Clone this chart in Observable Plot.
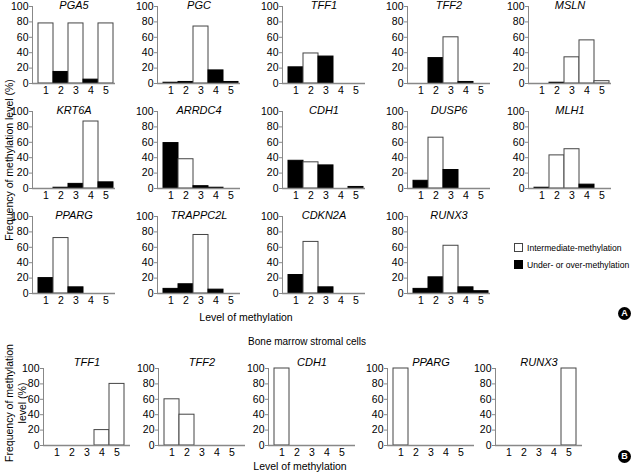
<!DOCTYPE html>
<html>
<head>
<meta charset="utf-8">
<script src="https://cdn.jsdelivr.net/npm/d3@7"></script>
<script src="https://cdn.jsdelivr.net/npm/@observablehq/plot@0.6"></script>
<style>
  body { margin: 0; background: white; }
  #fig { position: relative; width: 632px; height: 473px; background: white; overflow: hidden;
         font-family: "Liberation Sans", Arial, sans-serif; color: black; }
  #fig svg { position: absolute; overflow: visible; }
  .lbl { position: absolute; white-space: nowrap; font-size: 10px; line-height: 1; }
  .rot { transform: translate(-50%, -50%) rotate(-90deg); }
  .ctr { transform: translate(-50%, -50%); }
  .sq { position: absolute; width: 9px; height: 9px; box-sizing: border-box; border: 1px solid #444; }
  .badge { position: absolute; width: 13px; height: 13px; border-radius: 50%; background: black; color: white;
           font-weight: bold; font-size: 9px; line-height: 13px; text-align: center; }
</style>
</head>
<body>
<div id="fig"></div>
<script>
// ---------- data ----------
const levels = [1, 2, 3, 4, 5];
const yTicks = [0, 20, 40, 60, 80, 100];

// Panel A (I = intermediate-methylation, U = under- or over-methylation)
const genesA = ["PGA5", "PGC", "TFF1", "TFF2", "MSLN",
                "KRT6A", "ARRDC4", "CDH1", "DUSP6", "MLH1",
                "PPARG", "TRAPPC2L", "CDKN2A", "RUNX3"];
const valuesA = [
  [78, 15, 78, 5, 78],
  [1, 2, 74, 17, 2],
  [21, 39, 35, 0, 0],
  [0, 33, 60, 2, 0],
  [0, 1, 34, 56, 3],
  [0, 1, 6, 87, 8],
  [59, 38, 3, 1, 0],
  [36, 34, 30, 0, 2],
  [10, 66, 24, 0, 0],
  [1, 43, 51, 5, 0],
  [20, 72, 8, 0, 0],
  [6, 12, 76, 5, 0],
  [24, 67, 8, 0, 0],
  [6, 21, 62, 8, 3]
];
const kindsA = [
  "IUIUI", "UUIUU", "UIUUU", "UUIUU", "UUIII",
  "UUUIU", "UIUUU", "UIUUU", "UIUUU", "UIIUU",
  "UIUUU", "UUIUU", "UIUUU", "UUIUU"
];

// Panel B: bone marrow stromal cells
const genesB = ["TFF1", "TFF2", "CDH1", "PPARG", "RUNX3"];
const valuesB = [
  [0, 0, 0, 20, 80],
  [60, 40, 0, 0, 0],
  [100, 0, 0, 0, 0],
  [100, 0, 0, 0, 0],
  [0, 0, 0, 0, 100]
];
const kindsB = ["IIIII", "IIIII", "IIIII", "IIIII", "IIIII"];

const legendLabels = ["Intermediate-methylation", "Under- or over-methylation"];
const xTitle = "Level of methylation";
const yTitle = "Frequency of methylation level (%)";
const yTitleB = ["Frequency of methylation", "level (%)"];
const panelBTitle = "Bone marrow stromal cells";

// ---------- layout ----------
const fig = document.getElementById("fig");
const mL = 30, mR = 3, mT = 14, mB = 20, plotH = 77;
const colXA = [32, 157, 282, 407, 528];
const rowYA = [6, 111, 216];
const colXB = [43, 158, 268, 387, 495];
const rowYB = 368;

function chart(title, vals, kinds, axisLen, titleDy) {
  const data = levels.map((l, i) => ({level: l, value: vals[i], kind: kinds[i]}))
                     .filter(d => d.value > 0);
  return Plot.plot({
    width: mL + axisLen + mR,
    height: mT + plotH + mB,
    marginLeft: mL, marginRight: mR, marginTop: mT, marginBottom: mB,
    style: {fontFamily: "'Liberation Sans', Arial, sans-serif", fontSize: "10.5px", background: "transparent", color: "black"},
    x: {type: "band", domain: levels, range: [mL + 5.5, mL + 81.5], padding: 0},
    y: {domain: [0, 100]},
    marks: [
      Plot.barY(data, {
        x: "level", y: "value",
        fill: d => d.kind === "I" ? "white" : "black",
        stroke: d => d.kind === "I" ? "#444" : "black",
        strokeWidth: 1
      }),
      Plot.ruleY([0], {stroke: "#888", strokeWidth: 1.5}),
      Plot.frame({anchor: "left", stroke: "#888"}),
      Plot.axisY({ticks: yTicks, tickSize: 3, tickPadding: 1, stroke: "#888", fill: "black", label: null}),
      Plot.axisX({tickSize: 0, tickPadding: 3, fill: "black", label: null}),
      Plot.text([title], {frameAnchor: "top", lineAnchor: "middle", dy: titleDy,
                          fontStyle: "italic", fontSize: 11, fill: "black"})
    ]
  });
}

function place(el, left, top) {
  el.style.left = left + "px";
  el.style.top = top + "px";
  fig.appendChild(el);
}

genesA.forEach((g, i) => {
  const r = Math.floor(i / 5), c = i % 5;
  const svg = chart(g, valuesA[i], kindsA[i], 83, -1);
  place(svg, colXA[c] - mL, rowYA[r] - mT);
});

genesB.forEach((g, i) => {
  const svg = chart(g, valuesB[i], kindsB[i], 87, -6);
  place(svg, colXB[i] - mL, rowYB - mT);
});

function label(text, x, y, cls, size) {
  const d = document.createElement("div");
  d.className = "lbl " + cls;
  d.textContent = text;
  if (size) d.style.fontSize = size + "px";
  place(d, x, y);
  return d;
}

label(yTitle, 9, 160, "rot", 10.5);
label(xTitle, 246, 317, "ctr", 10.5);
label(panelBTitle, 307, 342, "ctr", 10);
label(yTitleB[0], 9, 403, "rot", 10.5);
label(yTitleB[1], 22, 403, "rot", 10.5);
label(xTitle, 300, 466, "ctr", 10.5);

// legend
const sqW = document.createElement("div");
sqW.className = "sq"; sqW.style.background = "white";
place(sqW, 514, 243);
const sqB = document.createElement("div");
sqB.className = "sq"; sqB.style.background = "black"; sqB.style.borderColor = "black";
place(sqB, 514, 260);
label(legendLabels[0], 527, 243.5, "", 8.6);
label(legendLabels[1], 527, 260.5, "", 8.6);

// panel badges
["A", "B"].forEach((t, i) => {
  const b = document.createElement("div");
  b.className = "badge";
  b.textContent = t;
  place(b, 618, i === 0 ? 307 : 450);
});
</script>
</body>
</html>
